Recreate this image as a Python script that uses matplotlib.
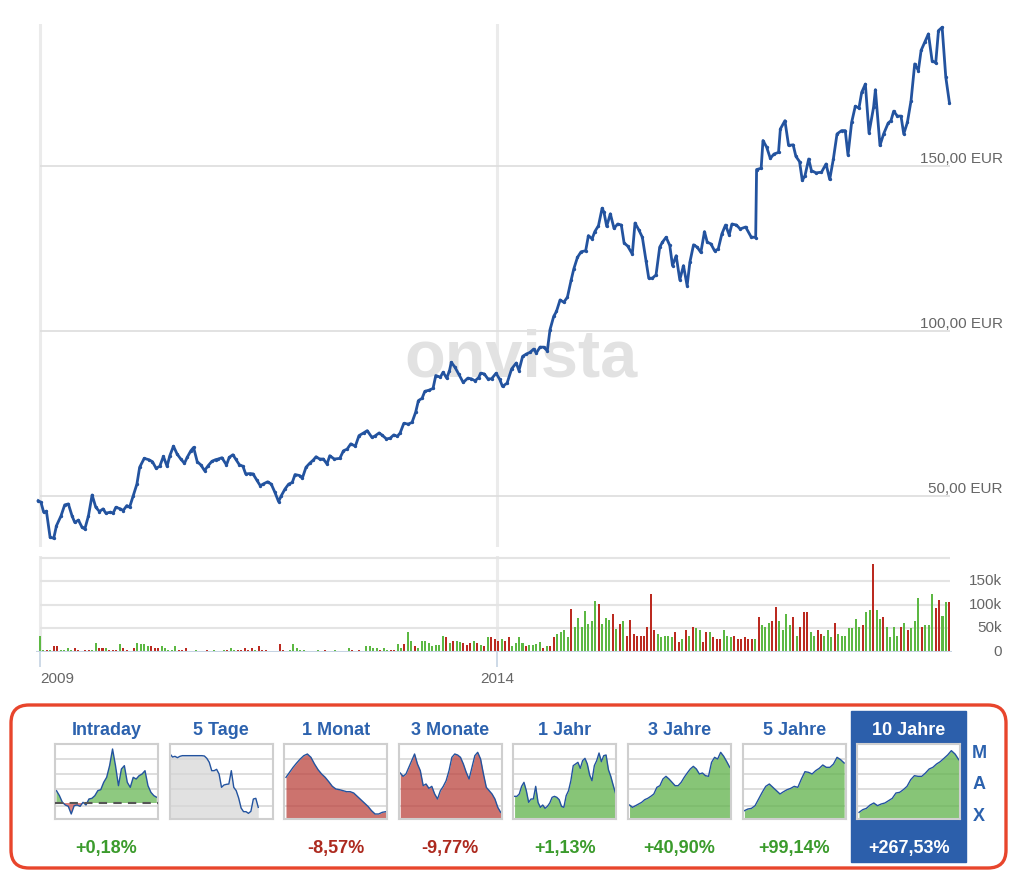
import numpy as np
import matplotlib.pyplot as plt
from matplotlib.patches import FancyBboxPatch, Rectangle
from matplotlib.transforms import blended_transform_factory

plt.rcParams['font.family'] = ['Liberation Sans', 'DejaVu Sans']

# ---- price history (decimal year, EUR) ----
price_dates = [
    2008.98, 2009.01, 2009.04, 2009.07, 2009.11, 2009.15, 2009.18, 2009.23, 2009.27, 2009.31,
    2009.35, 2009.38, 2009.42, 2009.46, 2009.49, 2009.53, 2009.57, 2009.61, 2009.65, 2009.69,
    2009.72, 2009.77, 2009.80, 2009.83, 2009.88, 2009.91, 2009.95, 2009.98, 2010.02, 2010.06,
    2010.09, 2010.14, 2010.19, 2010.23, 2010.27, 2010.31, 2010.35, 2010.39, 2010.42, 2010.46,
    2010.50, 2010.54, 2010.58, 2010.61, 2010.65, 2010.68, 2010.72, 2010.76, 2010.80, 2010.84,
    2010.88, 2010.92, 2010.95, 2010.99, 2011.04, 2011.07, 2011.11, 2011.14, 2011.18, 2011.22,
    2011.25, 2011.30, 2011.33, 2011.37, 2011.41, 2011.44, 2011.49, 2011.53, 2011.57, 2011.61,
    2011.64, 2011.68, 2011.72, 2011.76, 2011.79, 2011.84, 2011.87, 2011.91, 2011.95, 2011.99,
    2012.02, 2012.06, 2012.10, 2012.14, 2012.17, 2012.22, 2012.28, 2012.32, 2012.36, 2012.40,
    2012.45, 2012.49, 2012.54, 2012.58, 2012.63, 2012.66, 2012.71, 2012.74, 2012.79, 2012.83,
    2012.87, 2012.91, 2012.94, 2012.98, 2013.03, 2013.07, 2013.11, 2013.14, 2013.18, 2013.21,
    2013.26, 2013.30, 2013.33, 2013.38, 2013.41, 2013.45, 2013.48, 2013.50, 2013.54, 2013.58,
    2013.63, 2013.68, 2013.72, 2013.76, 2013.80, 2013.82, 2013.86, 2013.90, 2013.94, 2013.99,
    2014.03, 2014.06, 2014.11, 2014.16, 2014.21, 2014.24, 2014.28, 2014.32, 2014.36, 2014.40,
    2014.43, 2014.47, 2014.51, 2014.55, 2014.58, 2014.62, 2014.65, 2014.69, 2014.73, 2014.77,
    2014.81, 2014.84, 2014.88, 2014.92, 2014.97, 2015.00, 2015.04, 2015.07, 2015.11, 2015.15,
    2015.17, 2015.20, 2015.24, 2015.28, 2015.32, 2015.36, 2015.39, 2015.43, 2015.48, 2015.51,
    2015.55, 2015.59, 2015.63, 2015.66, 2015.70, 2015.74, 2015.78, 2015.81, 2015.85, 2015.89,
    2015.92, 2015.96, 2016.00, 2016.04, 2016.08, 2016.11, 2016.15, 2016.19, 2016.23, 2016.27,
    2016.30, 2016.34, 2016.38, 2016.42, 2016.46, 2016.50, 2016.54, 2016.57, 2016.62, 2016.66,
    2016.72, 2016.78, 2016.83, 2016.84, 2016.89, 2016.91, 2016.95, 2016.99, 2017.03, 2017.08,
    2017.10, 2017.15, 2017.19, 2017.24, 2017.27, 2017.31, 2017.34, 2017.37, 2017.41, 2017.44,
    2017.49, 2017.55, 2017.60, 2017.64, 2017.68, 2017.72, 2017.77, 2017.81, 2017.84, 2017.88,
    2017.92, 2017.96, 2017.99, 2018.03, 2018.07, 2018.12, 2018.14, 2018.19, 2018.23, 2018.28,
    2018.31, 2018.34, 2018.38, 2018.42, 2018.45, 2018.49, 2018.53, 2018.57, 2018.61, 2018.64,
    2018.68, 2018.72, 2018.76, 2018.80, 2018.83, 2018.87, 2018.91, 2018.95]
price_eur = [
    48.6, 48.1, 45.1, 45.4, 37.5, 37.2, 41.0, 44.0, 47.3, 47.6,
    44.0, 42.0, 42.7, 40.5, 40.0, 44.0, 50.3, 46.6, 45.3, 46.1,
    44.8, 45.1, 44.8, 46.6, 46.1, 45.6, 47.1, 46.6, 50.1, 53.6,
    58.7, 61.4, 61.0, 60.4, 58.4, 59.0, 62.0, 59.0, 62.2, 65.1,
    62.7, 61.2, 59.9, 61.7, 63.7, 64.7, 60.4, 59.4, 57.7, 59.2,
    60.5, 61.0, 61.2, 61.6, 59.4, 61.7, 62.5, 61.2, 59.5, 59.0,
    56.7, 56.8, 56.7, 54.9, 53.1, 53.6, 54.3, 53.6, 51.1, 48.3,
    50.1, 52.1, 53.6, 54.1, 56.5, 56.2, 55.4, 58.7, 59.9, 60.9,
    61.9, 61.2, 61.2, 59.7, 62.2, 61.2, 61.4, 63.7, 64.2, 65.8,
    65.1, 68.3, 69.1, 69.8, 67.8, 68.1, 69.1, 68.5, 67.3, 67.5,
    68.5, 68.1, 69.1, 72.0, 71.8, 72.3, 75.4, 78.9, 79.6, 81.7,
    82.1, 82.6, 86.5, 86.0, 87.5, 85.7, 88.0, 90.5, 89.0, 87.0,
    84.4, 85.7, 85.5, 84.9, 85.9, 87.2, 87.0, 85.5, 85.5, 87.2,
    85.3, 83.2, 84.2, 88.5, 90.3, 88.0, 92.3, 93.0, 93.5, 94.5,
    93.3, 95.1, 95.1, 94.0, 100.4, 104.4, 105.9, 109.4, 108.7, 110.2,
    115.3, 118.8, 122.3, 124.0, 124.3, 128.9, 127.9, 130.1, 131.9, 137.2,
    136.0, 131.7, 135.5, 131.1, 132.4, 132.1, 126.7, 125.7, 123.3, 132.7,
    130.7, 128.4, 121.3, 116.0, 116.0, 117.0, 125.4, 126.9, 128.4, 125.9,
    119.8, 122.8, 115.5, 119.8, 113.7, 120.8, 126.1, 125.4, 123.8, 130.1,
    126.9, 126.4, 124.3, 124.8, 129.4, 132.1, 129.1, 132.4, 132.1, 130.9,
    131.5, 128.5, 128.3, 148.9, 149.3, 157.7, 155.7, 152.3, 153.6, 154.1,
    161.2, 163.7, 156.2, 156.4, 152.9, 151.3, 145.6, 147.1, 152.1, 148.6,
    147.9, 148.1, 150.6, 145.9, 152.1, 159.7, 160.7, 160.7, 153.3, 163.2,
    168.1, 167.5, 172.3, 174.8, 160.0, 167.8, 173.1, 156.2, 159.7, 163.0,
    163.7, 166.6, 165.1, 165.1, 159.7, 163.2, 169.8, 180.9, 178.9, 185.0,
    187.5, 190.0, 181.9, 181.2, 191.0, 192.0, 176.9, 169.1]

# ---- traded volume (thousands), '+' = up period, '-' = down period ----
vol_k = [
    35, 4, 4, 4, 12, 12, 4, 4, 8, 4, 8, 4, 0, 4, 4, 4, 20, 8, 8, 8,
    4, 4, 4, 17, 8, 4, 0, 8, 20, 17, 17, 12, 12, 8, 8, 12, 8, 4, 4, 12,
    4, 4, 8, 0, 0, 4, 0, 0, 4, 0, 4, 0, 0, 4, 4, 8, 4, 4, 4, 8,
    4, 8, 4, 12, 4,
    4, 0, 0, 0, 17, 4, 0, 4, 17, 8, 4, 4, 0, 0, 0, 4, 0, 4, 0, 0,
    4, 0, 0, 0, 8, 4, 0, 4, 0, 12, 12, 8, 8, 4, 8, 4, 4, 4, 17, 8,
    17, 43, 23, 12, 8, 23, 23, 19, 12, 15, 15, 35, 32, 19, 23, 23, 21, 19, 15, 19,
    23, 19, 15, 12, 32, 32, 28, 23, 28, 23, 32, 12, 20,
    31, 19, 12, 15, 15, 18, 22, 8, 12, 12, 31, 38, 42, 46, 31, 91, 53, 72, 53, 87,
    60, 65, 109, 102, 60, 72, 69, 80, 49, 60, 65, 33, 69, 38, 33, 33, 33, 53, 123, 46,
    38, 31, 33, 33, 31, 43, 22, 28, 46, 33, 53, 50, 46, 22, 43, 43, 31, 28, 28, 46,
    33, 31, 33, 28, 28, 31, 28, 28, 28, 74, 57, 54, 61, 66, 96, 66, 46, 81, 57, 74,
    34, 54, 85, 85, 43, 34, 46, 39, 34, 46, 31, 61, 39, 34, 34, 50, 50, 70, 54, 57,
    85, 89, 188, 89, 70, 74, 54, 31, 54, 34, 54, 61, 46, 50, 66, 115, 54, 57, 57, 123,
    93, 111, 77, 107, 107]
vol_dir = ("++-+--++++" "--+--++--+" "---+--+-++" "++---+++++" "---+++++-+"
           "++++-++---" "--+--"
           "-+++--++++" "+++++++-++" "+++++-+-++" "+++-++--++" "-++-++++++"
           "++-+-++---" "+-+-+---+-" "-++"
           "++-++++-+-" "-++++-++++" "+++-+++-+-" "+---------" "+++++--+-+"
           "-++--+---+" "++------+-" "+++--++++-" "+---++--++" "+-+++++++-"
           "++-++-++++" "-+-+++-+++" "--++-")
vol_first, vol_last = 2009.0, 2018.95

price_ticks = [50, 100, 150]
vol_ticks = [0, 50, 100, 150]
year_ticks = [2009, 2014]

# ---- period selector ----
periods = ["Intraday", "5 Tage", "1 Monat", "3 Monate", "1 Jahr", "3 Jahre", "5 Jahre", "10 Jahre"]
changes = ["+0,18%", "", "-8,57%", "-9,77%", "+1,13%", "+40,90%", "+99,14%", "+267,53%"]
selected = "10 Jahre"

intraday_prev_close = 4.8
intraday = [8.5, 7.0, 5.0, 4.2, 3.8, 1.5, 4.0, 4.2, 3.8, 5.0, 4.2, 6.0, 6.2, 7.0, 8.5, 8.8,
            11.0, 12.5, 16.0, 21.0, 16.0, 10.0, 15.0, 16.0, 11.0, 9.5, 12.5, 12.0, 13.0, 13.5,
            14.5, 10.0, 8.0, 7.0, 6.5]
five_days = [19.5, 18.6, 18.8, 18.4, 18.8, 19.0, 19.0, 19.0, 19.0, 19.0, 19.0, 19.0, 19.0,
             19.0, 18.9, 18.2, 17.0, 14.5, 14.5, 14.9, 13.5, 9.5, 10.2, 10.4, 10.5, 14.5, 9.5,
             8.5, 6.3, 3.3, 2.2, 2.2, 1.7, 2.3, 6.0, 6.2, 3.5]
one_month = [12.5, 14.0, 15.5, 16.8, 18.0, 19.0, 19.5, 18.5, 16.5, 14.8, 13.5, 12.5, 11.2, 9.8,
             9.0, 8.8, 8.5, 8.2, 8.2, 7.8, 6.8, 5.8, 4.8, 3.8, 2.5, 1.5, 1.5, 2.0, 2.2]
three_months = [13.8, 12.8, 13.5, 15.5, 17.5, 19.5, 16.5, 14.5, 10.0, 10.5, 9.2, 9.8, 7.5, 6.0,
                8.5, 9.8, 11.5, 14.5, 18.5, 19.5, 19.2, 18.5, 16.5, 14.0, 12.0, 15.5, 19.0, 20.0,
                18.0, 13.5, 9.5, 8.5, 7.5, 6.0, 3.5, 2.0]
one_year = [6.8, 6.8, 7.5, 9.8, 11.0, 8.5, 5.0, 6.0, 6.0, 9.8, 5.0, 3.5, 4.2, 3.2, 3.8, 4.8,
            6.5, 6.8, 6.5, 5.8, 3.8, 3.5, 7.0, 8.5, 11.5, 16.0, 16.5, 17.0, 15.2, 17.5, 18.2,
            16.5, 13.2, 11.5, 16.0, 17.5, 19.8, 17.2, 19.0, 19.2, 14.8, 12.8, 10.2, 7.8]
three_years = [4.2, 3.5, 4.0, 4.5, 5.0, 5.8, 6.2, 6.8, 7.5, 9.5, 10.0, 12.0, 12.8, 12.0, 11.0,
               10.0, 10.0, 11.0, 12.5, 13.8, 15.0, 15.8, 15.0, 13.5, 13.8, 13.0, 12.8, 17.0,
               18.5, 18.0, 20.0, 18.8, 17.2, 15.5]
five_years = [2.5, 3.0, 3.2, 4.0, 6.0, 8.0, 9.8, 10.5, 9.5, 8.5, 7.5, 8.2, 8.8, 9.2, 9.8, 9.5,
              12.0, 14.2, 14.0, 13.5, 14.5, 15.2, 16.2, 15.5, 15.5, 16.5, 18.5, 17.8, 16.8]
ten_years = [2.0, 2.8, 3.2, 4.2, 4.8, 4.0, 4.5, 4.8, 5.5, 6.2, 7.8, 8.0, 8.8, 9.8, 11.8, 13.0,
             12.8, 12.8, 13.8, 15.0, 15.5, 16.5, 17.2, 18.2, 19.2, 20.5, 19.5, 17.8]
thumb_series = [intraday, five_days, one_month, three_months, one_year, three_years,
                five_years, ten_years]

assert len(price_dates) == len(price_eur)
assert len(vol_k) == len(vol_dir)

BLUE = '#23539f'
GREEN_BAR, RED_BAR = '#5cb843', '#bb2a20'
TXT_BLUE, TXT_GREEN, TXT_RED = '#2c62ae', '#3b9b2c', '#ad2a1f'
GRID = '#dddddd'

W, H = 1024, 878
fig = plt.figure(figsize=(W / 100, H / 100), dpi=100)


def px_axes(x0, y0, x1, y1):
    """add axes from a pixel box measured from the top-left corner"""
    return fig.add_axes([x0 / W, 1 - y1 / H, (x1 - x0) / W, (y1 - y0) / H])


# background layer, in pixel units, for the selector frame and its texts
bg = px_axes(0, 0, W, H)
bg.set_xlim(0, W)
bg.set_ylim(H, 0)
bg.axis('off')
bg.add_patch(FancyBboxPatch((11, 706), 995, 163, boxstyle='round,pad=0,rounding_size=18',
                            fc='none', ec='#e8452c', lw=2.4))

xlim = (2008.956, 2018.978)

# ---- price chart ----
ax = px_axes(36, 25, 952, 548)
ax.set_xlim(*xlim)
ax.set_ylim(34.55, 193.0)
for y in year_ticks:
    ax.axvline(y, color='#ebebeb', lw=2.2, zorder=0)
ax.hlines(price_ticks, year_ticks[0], xlim[1] - 0.02, color=GRID, lw=1.2, zorder=0)
ax.text(521 / W, 1 - 377 / H, 'onvista', transform=fig.transFigure, ha='center',
        va='baseline', fontsize=48, fontweight='bold', color='#e2e2e2', zorder=0)
ax.plot(price_dates, price_eur, color=BLUE, lw=2.0, marker='o', ms=1.4, zorder=3)
tr = blended_transform_factory(fig.transFigure, ax.transData)
for v in price_ticks:
    ax.annotate(f"{v:.2f}".replace('.', ',') + " EUR", xy=(1003 / W, v), xycoords=tr,
                xytext=(0, 2.7), textcoords='offset points', ha='right', va='baseline',
                fontsize=11, color='#666666')
for s in ax.spines.values():
    s.set_visible(False)
ax.set_xticks([])
ax.set_yticks([])

# ---- volume chart ----
axv = px_axes(36, 557, 952, 653)
axv.set_xlim(*xlim)
axv.set_ylim(0, 204)
for y in year_ticks:
    axv.axvline(y, color='#ebebeb', lw=2.2, zorder=0)
axv.hlines([50, 100, 150, 200], year_ticks[0], xlim[1] - 0.02, color='#e4e4e4', lw=1.5, zorder=0)
vol_dates = np.linspace(vol_first, vol_last, len(vol_k))
bar_cols = [GREEN_BAR if d == '+' else RED_BAR for d in vol_dir]
axv.bar(vol_dates, vol_k, width=0.022, color=bar_cols, linewidth=0, zorder=2)
axv.axhline(0, color='#c5d3e3', lw=1.5, zorder=3)
trv = blended_transform_factory(fig.transFigure, axv.transData)
for v in vol_ticks:
    axv.annotate(f"{v}k" if v else "0", xy=(1002 / W, v), xycoords=trv, xytext=(0, 1),
                 textcoords='offset points', ha='right', va='center', fontsize=11,
                 color='#666666')
for s in axv.spines.values():
    s.set_visible(False)
axv.set_yticks([])
axv.set_xticks(year_ticks)
axv.set_xticklabels([str(y) for y in year_ticks])
axv.tick_params(axis='x', length=11, width=1.2, color='#c5d3e3', pad=2.7,
                labelsize=11, labelcolor='#666666')
axv.get_xticklabels()[0].set_horizontalalignment('left')

# ---- period selector thumbnails ----
sel_idx = periods.index(selected)
bg.add_patch(Rectangle((851, 712), 115, 151, color='#2c5fab', zorder=1))

for i, (name, change, series) in enumerate(zip(periods, changes, thumb_series)):
    x0 = 55 + i * 114.6
    cx = x0 + 51.5
    is_sel = i == sel_idx
    bg.text(cx, 735, name, ha='center', va='baseline', fontsize=13, fontweight='bold',
            color='white' if is_sel else TXT_BLUE, zorder=2)
    if change:
        col = 'white' if is_sel else (TXT_GREEN if change.startswith('+') else TXT_RED)
        bg.text(cx, 853, change, ha='center', va='baseline', fontsize=13,
                fontweight='bold', color=col, zorder=2)

    ta = px_axes(x0, 745, x0 + 103, 820)
    ta.set_facecolor('white')
    n = len(series)
    xs = np.arange(n)
    ta.set_ylim(0, 22.5)
    if name == "5 Tage":
        ta.set_xlim(-0.2, (n - 1) / 0.86)
    else:
        ta.set_xlim(-0.5, n - 0.6)
    for g in [4, 9, 13.5, 18]:
        ta.axhline(g, color='#d8d8d8', lw=1.2, zorder=0)
    if name == "Intraday":
        base = intraday_prev_close
        ta.fill_between(xs, series, base, where=np.array(series) >= base, interpolate=True,
                        color='#5fb24a', alpha=0.7, lw=0, zorder=1)
        ta.fill_between(xs, series, base, where=np.array(series) < base, interpolate=True,
                        color='#d0504a', alpha=0.7, lw=0, zorder=1)
        ta.axhline(base, color='#555555', lw=1.5, ls=(0, (4, 3)), zorder=3)
    else:
        if change.startswith('+'):
            fc = '#5fb24a'
        elif change.startswith('-'):
            fc = '#bc443e'
        else:
            fc = '#d7d7d7'
        ta.fill_between(xs, series, 0, color=fc, alpha=0.75, lw=0, zorder=1)
    ta.plot(xs, series, color=BLUE, lw=1.0, zorder=2)
    ta.set_xticks([])
    ta.set_yticks([])
    for s in ta.spines.values():
        s.set_color('#cfcfcf')
        s.set_linewidth(1.5)

for k, letter in enumerate("MAX"):
    bg.text(979, 758 + k * 31.5, letter, ha='center', va='baseline', fontsize=13,
            fontweight='bold', color=TXT_BLUE)

fig.savefig('out.png', dpi=100, facecolor='white')
